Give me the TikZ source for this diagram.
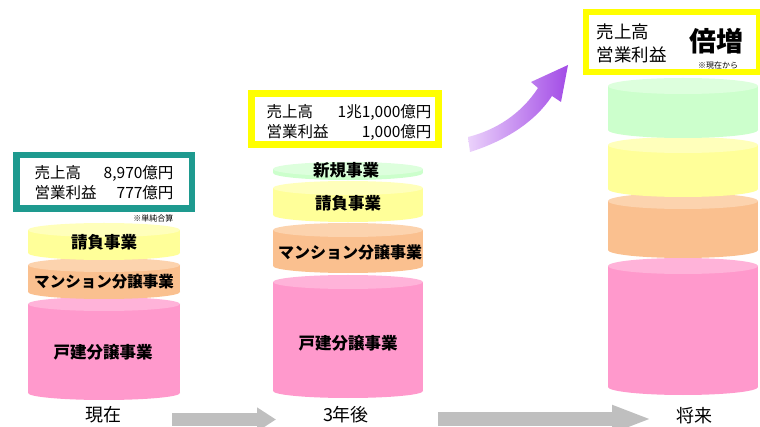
\documentclass[tikz,border=0pt]{standalone}
\usepackage{fontspec}
\setmainfont{Noto Sans CJK JP}
\usepackage{xcolor}
\usepackage{tikz}
\usetikzlibrary{arrows.meta}
\definecolor{teal}{HTML}{1E9A8F}
\definecolor{hiyel}{HTML}{FFFF00}
\definecolor{pinkb}{HTML}{FF99CC}
\definecolor{pinkt}{HTML}{FFB3D9}
\definecolor{orngb}{HTML}{FAC08F}
\definecolor{orngt}{HTML}{FCD3AE}
\definecolor{yelb}{HTML}{FFFF99}
\definecolor{yelt}{HTML}{FFFFBB}
\definecolor{grnb}{HTML}{CCFFCC}
\definecolor{grnt}{HTML}{DDFFDD}
\definecolor{flowgray}{HTML}{BFBFBF}
\definecolor{violl}{HTML}{EBD2FB}
\definecolor{viold}{HTML}{A24BE6}
\tikzset{
  resbox/.style={draw=teal, line width=6.5pt, fill=white, inner sep=0pt},
  goalbox/.style={draw=hiyel, line width=7pt, fill=white, inner sep=0pt},
  figs/.style={font=\fontsize{15.5}{18}\selectfont},
  seglab/.style={font=\bfseries\fontsize{16.5}{19}\selectfont},
  when/.style={font=\fontsize{18}{20}\selectfont, inner sep=0pt},
  note/.style={font=\fontsize{8}{9}\selectfont},
  flow/.style={draw=flowgray},
}
% one slice of a stacked cylinder: cx, top, bottom, body, top colour, radii
\newcommand{\cylseg}[7]{%
  \fill[#4] (#1-#6,#2) rectangle (#1+#6,#3);
  \fill[#4] (#1,#3) ellipse [x radius=#6, y radius=#7];
  \fill[#5] (#1,#2) ellipse [x radius=#6, y radius=#7];
}

\begin{document}
\begin{tikzpicture}[x=1pt,y=-1pt]
  \useasboundingbox (0,0) rectangle (760,427);

  % now
  \cylseg{104}{304}{393}{pinkb}{pinkt}{76}{7}
  \cylseg{104}{265}{292}{orngb}{orngt}{76}{7}
  \cylseg{104}{230}{253}{yelb}{yelt}{76}{7}
  \node[seglab] (n1) at (104,242) {請負事業};
  \node[seglab, font=\bfseries\fontsize{15.5}{19}\selectfont] (n2) at (104,282) {マンション分譲事業};
  \node[seglab] (n3) at (103,352) {戸建分譲事業};
  \node[when] (now) at (103.5,415) {現在};

  % three years on
  \cylseg{348}{282}{391}{pinkb}{pinkt}{75}{7}
  \cylseg{348}{230}{266}{orngb}{orngt}{75}{7}
  \cylseg{348}{188}{215}{yelb}{yelt}{75}{7}
  \cylseg{348}{169}{173}{grnb}{grnt}{75}{7}
  \node[seglab] (m0) at (346,170) {新規事業};
  \node[seglab] (m1) at (348,203) {請負事業};
  \node[seglab, font=\bfseries\fontsize{16}{19}\selectfont] (m2) at (350,252) {マンション分譲事業};
  \node[seglab] (m3) at (348,343) {戸建分譲事業};
  \node[when] (yr3) at (346,415) {3年後};

  % future
  \cylseg{683}{266}{387}{pinkb}{pinkt}{75}{8}
  \cylseg{683}{201}{250}{orngb}{orngt}{75}{8}
  \cylseg{683}{145}{189}{yelb}{yelt}{75}{8}
  \cylseg{683}{86}{130}{grnb}{grnt}{75}{8}
  \node[when] (fut) at (694,416) {将来};

  % result boxes
  \node[resbox, minimum width=175.5pt, minimum height=53.5pt] (res1) at (104,182) {};
  \node[figs, anchor=west] (s1) at (31,173) {売上高};
  \node[figs, anchor=east] (v1) at (177,173) {8,970億円};
  \node[figs, anchor=west] (p1) at (31,193) {営業利益};
  \node[figs, anchor=east] (w1) at (177,193) {777億円};
  \node[note, anchor=east] (sum) at (177,218) {※単純合算};

  \node[goalbox, minimum width=187pt, minimum height=51pt] (res2) at (345,119) {};
  \node[figs, anchor=west] (s2) at (263,112) {売上高};
  \node[figs, anchor=east] (v2) at (435,112) {1兆1,000億円};
  \node[figs, anchor=west] (p2) at (263,132) {営業利益};
  \node[figs, anchor=east] (w2) at (435,132) {1,000億円};

  \node[goalbox, line width=6pt, minimum width=173pt, minimum height=60pt] (res3) at (672.5,42) {};
  \node[figs, font=\fontsize{17.5}{20}\selectfont, anchor=west] (s3) at (593,32) {売上高};
  \node[figs, font=\fontsize{17.5}{20}\selectfont, anchor=west] (p3) at (593,55) {営業利益};
  \node[font=\bfseries\fontsize{27}{30}\selectfont] (dbl) at (716,41) {倍増};
  \node[note] (fromnow) at (718,65) {※現在から};

  % flow arrows
  \coordinate (a1s) at (172,419.5);
  \coordinate (a1e) at (276,419.5);
  \coordinate (a2s) at (438,419);
  \coordinate (a2e) at (652,419);
  \draw[flow, line width=13pt, -{Triangle[length=19pt,width=23pt]}] (a1s) -- (a1e);
  \draw[flow, line width=14pt, -{Triangle[length=40pt,width=25pt]}] (a2s) -- (a2e);

  % rising arrow
  \coordinate (up) at (568,65);
  \shade[left color=violl, right color=viold]
    (468,137) .. controls (496,130) and (521,114) .. (538,88)
    -- (531,82) -- (up) -- (561,102) -- (552,96)
    .. controls (535,122) and (505,141) .. (470,152) -- cycle;
\end{tikzpicture}
\end{document}
